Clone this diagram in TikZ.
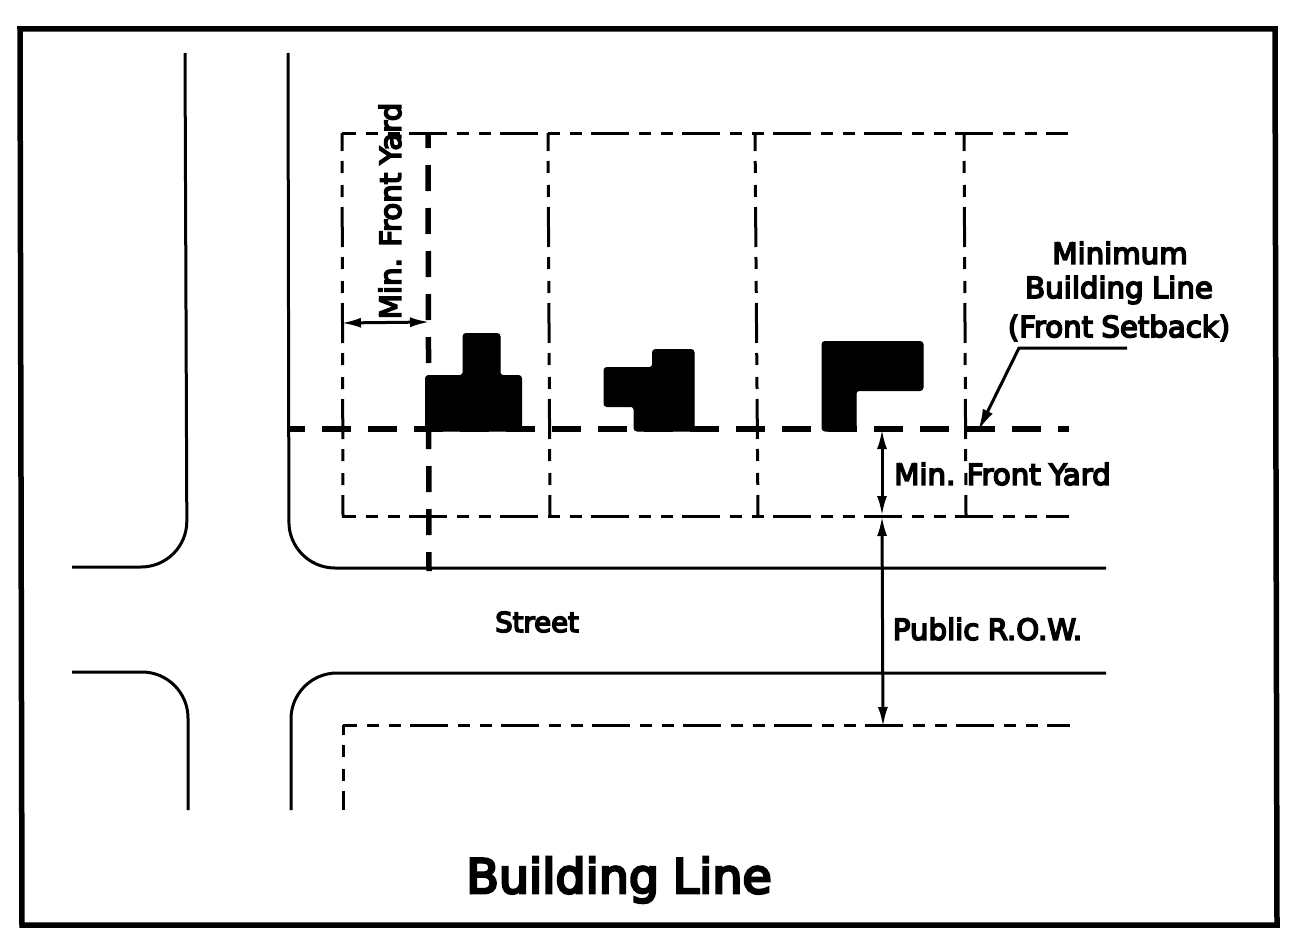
\documentclass[tikz,border=0pt]{standalone}
\usepackage{fontspec}
\setmainfont[FakeBold=5.5,WordSpace=0.9]{DejaVu Sans}
\usetikzlibrary{arrows.meta}
\tikzset{
  frameline/.style = {line width=5.5pt},
  streetline/.style = {line width=3pt, rounded corners=46pt},
  lotline/.style = {line width=3pt, dash pattern=on 38pt off 9.5pt on 12pt off 10pt on 12pt off 9.5pt, dash phase=24pt},
  lotside/.style = {line width=3pt, dash pattern=on 40pt off 10pt on 12pt off 12pt on 12pt off 10pt, dash phase=22pt},
  buildline/.style = {line width=5.5pt, dash pattern=on 29pt off 17pt},
  house/.style = {fill=black, draw=black, line width=1pt, rounded corners=3pt},
  dimline/.style = {line width=3pt, {Latex[length=20pt,width=10pt]}-{Latex[length=20pt,width=10pt]}},
  leader/.style = {line width=3pt, -{Latex[length=22pt,width=11pt]}},
  label/.style = {font=\fontsize{29.2}{34}\selectfont, inner sep=0pt},
  bigtitle/.style = {font=\fontsize{47.5}{56}\selectfont, inner sep=0pt}
}
\begin{document}
\begin{tikzpicture}[x=1pt,y=-1pt]
  \useasboundingbox (0,0) rectangle (1306,950);
  \fill[white] (0,0) rectangle (1306,950);

  % frame
  \draw[frameline] (20,29) -- (1275,29) -- (1277,925) -- (22,925) -- cycle;

  % streets
  \draw[streetline] (185,53) -- (187,567) -- (72,567);
  \draw[streetline] (288,53) -- (289,568) -- (1106,568);
  \draw[streetline] (72,672) -- (188,672) -- (188,810);
  \draw[streetline] (1106,673) -- (291,673) -- (291,810);

  % lots
  \draw[lotline] (342,516) -- (1069,516);
  \draw[lotline] (342,133) -- (1068,133);
  \draw[lotside] (342,133) -- (343,516);
  \draw[lotside] (548,133) -- (550,516);
  \draw[lotside] (755,133) -- (758,516);
  \draw[lotside] (964,133) -- (966,516);
  \draw[lotline] (343,725) -- (1070,725);
  \draw[lotside, dash phase=30pt] (343,725) -- (343,810);

  % building lines
  \draw[buildline, dash phase=12pt] (288,429) -- (1069,429);
  \draw[buildline, dash pattern=on 26pt off 17pt, dash phase=11pt] (428,133) -- (429,571);

  % houses
  \filldraw[house] (425.5,375.5) -- (463,375.5) -- (463,333.5) -- (500,333.5) -- (500,375.5)
    -- (521.5,375.5) -- (521.5,431) -- (425.5,431) -- cycle;
  \filldraw[house] (604,367.5) -- (652.5,367.5) -- (652.5,349.5) -- (694,349.5) -- (694,431)
    -- (634,431) -- (634,406.5) -- (604,406.5) -- cycle;
  \filldraw[house] (822,341.5) -- (923,341.5) -- (923,390.5) -- (856,390.5) -- (856,431)
    -- (822,431) -- cycle;

  % dimensions
  \coordinate (yardleft) at (341,323);
  \coordinate (yardright) at (430,322);
  \coordinate (buildfoot) at (882,429);
  \coordinate (lotfoot) at (882,516);
  \coordinate (rowfoot) at (883,727);
  \coordinate (leadstart) at (1127,348);
  \coordinate (leadknee) at (1019,348);
  \coordinate (leadend) at (978,431);
  \draw[dimline] (yardleft) -- (yardright);
  \draw[dimline] (buildfoot) -- (lotfoot);
  \draw[dimline] (lotfoot) -- (rowfoot);
  \draw[leader] (leadstart) -- (leadknee) -- (leadend);

  % text
  \node[label, rotate=90] (yardup) at (390,211) {Min. Front Yard};
  \node[label] (yardside) at (1002.5,474) {Min. Front Yard};
  \node[label] (minline) at (1120,253) {Minimum};
  \node[label] (buildname) at (1119,290) {Building Line};
  \node[label] (setback) at (1119,328) {(Front Setback)};
  \node[label, font=\fontsize{27.5}{32}\selectfont] (street) at (537,622) {Street};
  \node[label] (row) at (987.5,629) {Public R.O.W.};
  \node[bigtitle] (title) at (619,880) {Building Line};
\end{tikzpicture}
\end{document}
